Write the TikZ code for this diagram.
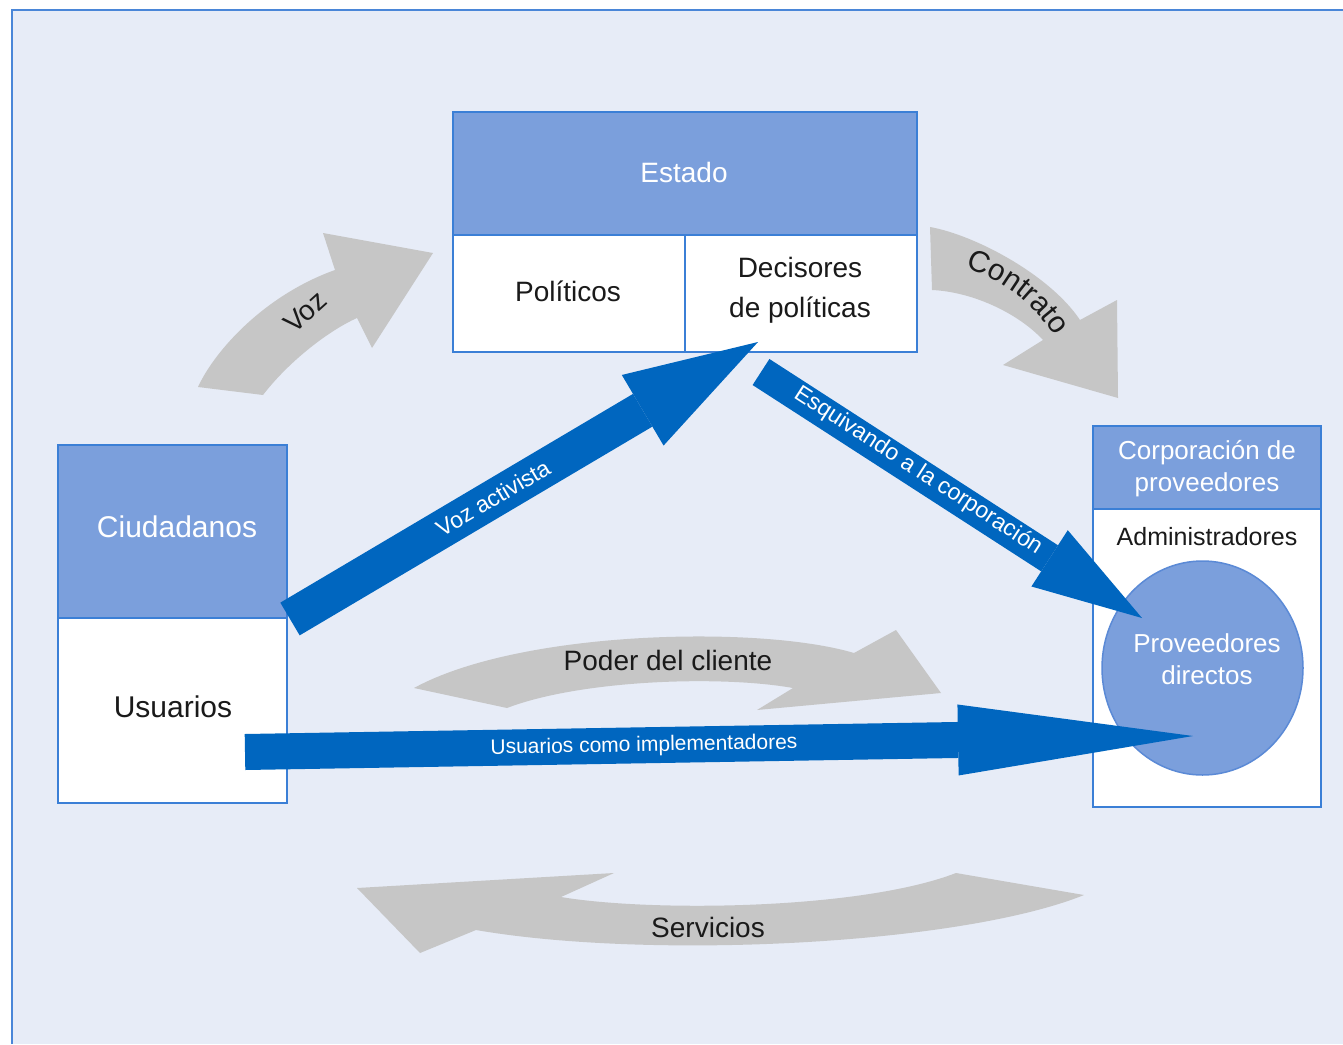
\documentclass[tikz,border=0pt]{standalone}
\usepackage{fontspec}
\setmainfont{Liberation Sans}
\usetikzlibrary{arrows.meta,shapes.geometric,decorations.text}
\definecolor{bgc}{HTML}{E7ECF7}
\definecolor{framec}{HTML}{4A86D8}
\definecolor{hdrc}{HTML}{7B9FDC}
\definecolor{boxline}{HTML}{3B7FD6}
\definecolor{circline}{HTML}{5B8AD6}
\definecolor{darrow}{HTML}{0066BF}
\definecolor{garrow}{HTML}{C6C6C6}
\definecolor{txt}{HTML}{1A1A1A}
\begin{document}
\begin{tikzpicture}[x=1pt,y=-1pt,
  hdrbox/.style={draw=boxline, line width=2pt, fill=hdrc, text=white, inner sep=0pt, font=\fontsize{28}{34}\selectfont, align=center},
  cellbox/.style={draw=boxline, line width=2pt, fill=white, text=txt, inner sep=0pt, font=\fontsize{28}{40}\selectfont, align=center},
  garr/.style={fill=garrow},
  lbl/.style={inner sep=0pt, text=txt, font=\fontsize{28}{34}\selectfont},
  wlbl/.style={inner sep=0pt, text=white, align=center},
  albl/.style={inner sep=0pt, text=white, font=\fontsize{23}{26}\selectfont},
  bigarrow/.style={draw=darrow, line cap=butt},
]
\useasboundingbox (0,0) rectangle (1343,1044);
\fill[white] (0,0) rectangle (1343,1044);
\fill[bgc] (12,10) rectangle (1343,1044);
\draw[framec, line width=2pt] (12,1044) -- (12,10) -- (1343,10);

% gray arrows
\fill[garr] (198,387) .. controls (215,350) and (265,295) .. (335,270) -- (323,233) -- (433,253) -- (372,348) -- (357,318) .. controls (330,330) and (290,360) .. (263,395) -- cycle;
\node[lbl, rotate=42] (voz) at (305,312) {Voz};

\fill[garr] (930,227) .. controls (975,235) and (1050,275) .. (1080,320) -- (1117,300) -- (1118,398) -- (1003,365) -- (1043,340) .. controls (1020,315) and (975,292) .. (932,290) -- cycle;
\path[decorate, decoration={text along path, text align=center, text color=txt, text={|\fontsize{30}{30}\selectfont|Contrato}}] (945,262) .. controls (1000,275) and (1040,305) .. (1065,355);

\fill[garr] (414,688) .. controls (520,630) and (760,625) .. (854,653) -- (896,630) -- (941,693) -- (757,710) -- (793,688) .. controls (720,675) and (580,680) .. (507,708) -- cycle;
\node[lbl] (poder) at (668,660) {Poder del cliente};

\fill[garr] (357,888) -- (614,873) -- (561,897) .. controls (650,912) and (860,910) .. (956,873) -- (1084,895) .. controls (960,945) and (650,960) .. (476,930) -- (420,953) -- cycle;
\node[lbl] (serv) at (708,927) {Servicios};

% boxes
\node[hdrbox, minimum width=464pt, minimum height=123pt] (estado) at (685,173.5) {};
\node[wlbl, font=\fontsize{28}{34}\selectfont] (estadotxt) at (684,172) {Estado};
\node[cellbox, minimum width=232pt, minimum height=117pt] (politicos) at (569,293.5) {};
\node[lbl] (politxt) at (568,291) {Políticos};
\node[cellbox, minimum width=232pt, minimum height=117pt] (decisores) at (801,293.5) {};
\node[lbl, align=center, font=\fontsize{28}{40}\selectfont] (decitxt) at (800,290) {Decisores\\de políticas};

\node[hdrbox, minimum width=229pt, minimum height=173pt] (ciud) at (172.5,531.5) {};
\node[wlbl, font=\fontsize{30}{34}\selectfont] (ciudtxt) at (177,527) {Ciudadanos};
\node[cellbox, minimum width=229pt, minimum height=185pt] (usuarios) at (172.5,710.5) {};
\node[lbl, font=\fontsize{30}{34}\selectfont] (usutxt) at (173,707) {Usuarios};

\node[hdrbox, minimum width=228pt, minimum height=83pt] (corp) at (1207,467.5) {};
\node[wlbl, font=\fontsize{26}{32}\selectfont] (corptxt) at (1207,469) {Corporación de\\proveedores};
\node[cellbox, minimum width=228pt, minimum height=298pt] (adm) at (1207,658) {};
\node[lbl, font=\fontsize{25}{30}\selectfont] (admtxt) at (1207,537) {Administradores};
\node[ellipse, draw=circline, line width=1.5pt, fill=hdrc, minimum width=201pt, minimum height=214pt, inner sep=0pt] (prov) at (1202.5,668) {};
\node[wlbl, font=\fontsize{26}{32}\selectfont] (provtxt) at (1207,659) {Proveedores\\directos};

% blue arrows
\coordinate (va-tail) at (290,619);
\coordinate (va-tip) at (758,342);
\coordinate (es-tail) at (761,372);
\coordinate (es-tip) at (1142,618);
\coordinate (us-tail) at (245,752);
\coordinate (us-tip) at (1193,736);
\draw[bigarrow, line width=38pt, -{Triangle[length=134pt,width=82pt,line width=0pt]}] (va-tail) -- (va-tip);
\draw[bigarrow, line width=31pt, -{Triangle[length=110pt,width=67pt,line width=0pt]}] (es-tail) -- (es-tip);
\draw[bigarrow, line width=36pt, -{Triangle[length=235pt,width=71pt,line width=0pt]}] (us-tail) -- (us-tip);

\node[albl, rotate=30.6] (valbl) at (493,498) {Voz activista};
\node[albl, rotate=-32.9] (eslbl) at (918,471) {Esquivando a la corporación};
\node[albl, font=\fontsize{21}{24}\selectfont, rotate=1] (uslbl) at (644,746) {Usuarios como implementadores};
\end{tikzpicture}
\end{document}
